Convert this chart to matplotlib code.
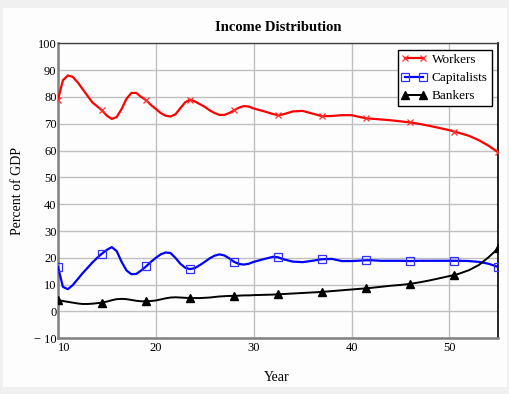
import matplotlib
matplotlib.use("Agg")
import matplotlib.pyplot as plt
from matplotlib.patches import Rectangle

# sample years (denser where they oscillate)
YEARS = [10 + 0.5 * i for i in range(41)] + [
    31, 32, 32.5, 33, 34, 35, 36, 37, 38, 39, 40, 41, 41.5, 42, 43, 44, 45,
    46, 47, 48, 49, 50, 50.5, 51, 52, 53, 54, 55]
MARKER_YEARS = [10, 14.5, 19, 23.5, 28, 32.5, 37, 41.5, 46, 50.5, 55]

WORKERS = [
    79.0, 86.2, 88.0, 87.5, 85.5, 83.0, 80.5, 78.0, 76.5, 75.0,
    73.0, 71.8, 72.5, 75.5, 79.3, 81.5, 81.5, 80.0, 78.8, 77.0,
    75.5, 74.0, 73.0, 72.7, 73.5, 75.8, 78.0, 79.0, 78.3, 77.3,
    76.3, 75.0, 74.0, 73.3, 73.3, 74.0, 75.0, 76.0, 76.6, 76.4,
    75.7,
    74.7, 73.6, 73.2, 73.5, 74.6, 74.8, 73.8, 72.8, 72.9, 73.2,
    73.2, 72.4, 72.0, 71.9, 71.6, 71.3, 70.9, 70.5, 69.9, 69.2,
    68.4, 67.6, 67.1, 66.6, 65.5, 63.9, 61.8, 59.3]
CAPITALISTS = [
    16.6, 9.2, 8.3, 9.8, 12.0, 14.2, 16.2, 18.2, 20.0, 21.6,
    23.0, 24.0, 22.5, 18.5, 15.3, 13.9, 14.0, 15.3, 16.8, 18.5,
    20.0, 21.3, 22.0, 21.8, 20.0, 17.8, 16.3, 15.8, 16.2, 17.3,
    18.5, 19.8, 20.8, 21.3, 20.9, 19.8, 18.5, 17.7, 17.5, 17.8,
    18.5,
    19.5, 20.4, 20.2, 19.5, 18.6, 18.4, 18.9, 19.5, 19.6, 18.8,
    18.8, 19.0, 19.1, 19.1, 18.9, 18.9, 18.9, 18.8, 18.9, 18.9,
    18.9, 18.9, 18.9, 18.9, 18.8, 18.5, 17.8, 16.6]
BANKERS = [
    4.2, 3.9, 3.6, 3.3, 3.0, 2.8, 2.8, 2.9, 3.1, 3.3,
    3.7, 4.2, 4.6, 4.7, 4.6, 4.3, 4.0, 3.8, 3.8, 3.9,
    4.1, 4.5, 4.9, 5.2, 5.3, 5.2, 5.1, 5.0, 5.0, 5.0,
    5.1, 5.2, 5.4, 5.6, 5.7, 5.8, 5.8, 5.9, 6.0, 6.0,
    6.1,
    6.2, 6.3, 6.4, 6.5, 6.7, 6.9, 7.1, 7.3, 7.6, 7.9,
    8.2, 8.5, 8.6, 8.8, 9.2, 9.6, 9.9, 10.3, 10.9, 11.6,
    12.4, 13.2, 13.6, 14.1, 15.4, 17.3, 20.2, 23.6]

X_TICKS = [10, 20, 30, 40, 50]
Y_TICKS = [-10, 0, 10, 20, 30, 40, 50, 60, 70, 80, 90, 100]
Y_TICK_LABELS = ['\u2212 10', '0', '10', '20', '30', '40', '50', '60', '70', '80', '90', '100']

plt.rcParams['font.family'] = ['Liberation Serif', 'DejaVu Serif']

fig = plt.figure(figsize=(5.1, 3.94), dpi=100)
fig.patch.set_facecolor('#f0f0f0')
panel = Rectangle((3 / 510, 7 / 394), 504 / 510, 379 / 394,
                  transform=fig.transFigure, facecolor='#fdfdfd',
                  edgecolor='none', zorder=-10)
fig.patches.append(panel)

ax = fig.add_axes([58 / 510, 1 - 338.3 / 394, 440.3 / 510, 295 / 394])
ax.set_facecolor('#fdfdfd')

mark_idx = [YEARS.index(y) for y in MARKER_YEARS]

ax.plot(YEARS, WORKERS, color='#ff0000', lw=1.6, marker='x', ms=5, mew=0.9,
        mec='#ff3030', markevery=mark_idx, label='Workers', zorder=3)
ax.plot(YEARS, CAPITALISTS, color='#0000ff', lw=1.6, marker='s', ms=5.5,
        mfc='none', mec='#3030ff', mew=0.9, markevery=mark_idx,
        label='Capitalists', zorder=3)
ax.plot(YEARS, BANKERS, color='black', lw=1.4, marker='^', ms=5.2,
        markevery=mark_idx, label='Bankers', zorder=3)

ax.set_xlim(10, 55)
ax.set_ylim(-10, 100)
ax.set_xticks(X_TICKS)
ax.set_yticks(Y_TICKS)
ax.set_yticklabels(Y_TICK_LABELS)
ax.tick_params(length=0, labelsize=9, pad=1)
ax.tick_params(axis='x', pad=3)
# first year label sits just right of the corner, clear of "-10"
ax.get_xticklabels()[0].set_horizontalalignment('left')
ax.grid(True, color='#c0c0c0', lw=1)
ax.set_axisbelow(True)

for side in ['left', 'bottom']:
    ax.spines[side].set_color('#808080')
    ax.spines[side].set_linewidth(1.8)
ax.spines['top'].set_color('#404040')
ax.spines['top'].set_linewidth(1)
ax.spines['right'].set_color('black')
ax.spines['right'].set_linewidth(1.2)

ax.set_title('Income Distribution', fontsize=10.5, fontweight='bold', pad=9)
ax.set_xlabel('Year', fontsize=10)
ax.set_ylabel('Percent of GDP', fontsize=10)
ax.xaxis.set_label_coords(0.497, -0.11)
ax.yaxis.set_label_coords(-0.077, 0.5)

leg = ax.legend(loc='upper right', numpoints=2, fontsize=9.5, fancybox=False,
                framealpha=1, edgecolor='black', handlelength=1.9,
                borderpad=0.3, labelspacing=0.45, handletextpad=0.4,
                borderaxespad=0.5)
leg.get_frame().set_linewidth(1)

fig.savefig('out.png', dpi=100, facecolor=fig.get_facecolor())
